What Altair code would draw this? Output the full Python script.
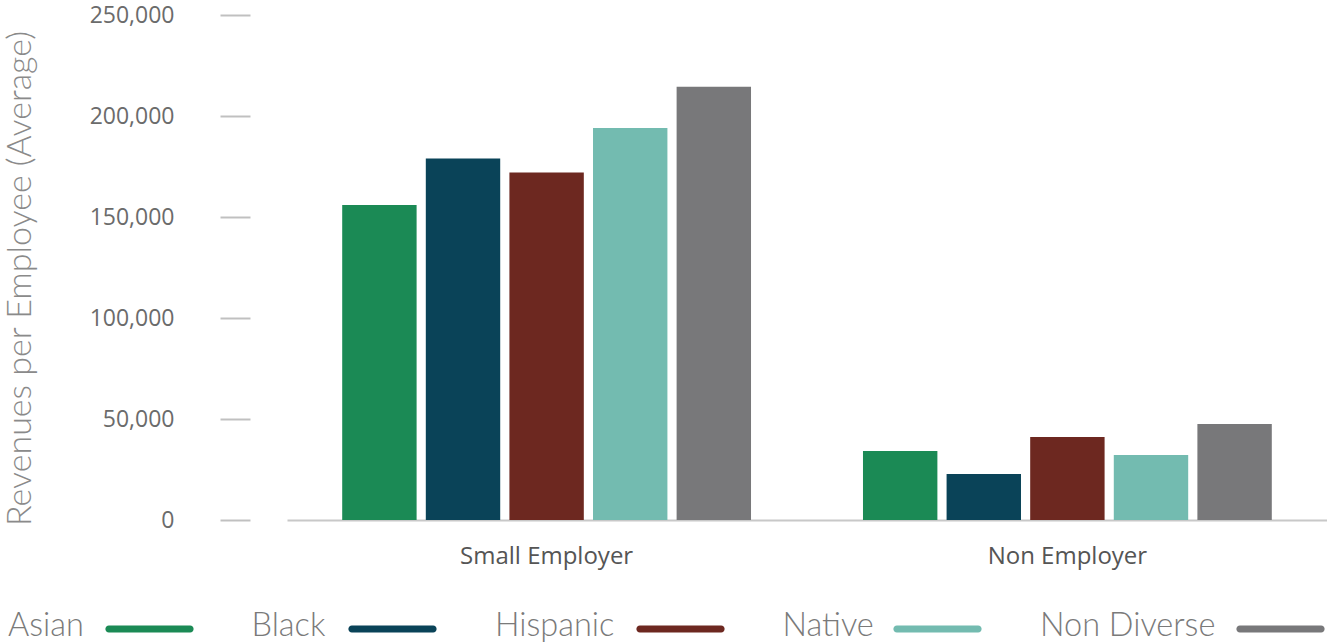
import altair as alt
import pandas as pd

groups = ["Small Employer", "Non Employer"]
categories = ["Asian", "Black", "Hispanic", "Native", "Non Diverse"]
small_employer = [156000, 179000, 172000, 194000, 214500]
non_employer = [34200, 22800, 41100, 32200, 47500]
colors = ["#1b8a55", "#0a4358", "#6d2820", "#73bbb0", "#78787a"]

rows = []
for g, vals in zip(groups, [small_employer, non_employer]):
    for c, v in zip(categories, vals):
        rows.append({"group": g, "category": c, "value": v})
df = pd.DataFrame(rows)

# legend swatches drawn to the right of each label (label width + gap, in px)
swatch_shift = [98, 97.5, 142, 111.5, 197]
SW = 88.5           # swatch length in px
half = SW / 2.0     # one path unit in px
r = 3.6 / half      # rounded-cap radius in units
yc = -6.5 / half    # swatch sits above the label baseline


def pill(shift_px):
    u0 = (shift_px - half) / half
    u1 = u0 + 2.0
    return (f"M{u0 + r:.4f},{yc - r:.4f} L{u1 - r:.4f},{yc - r:.4f} "
            f"A{r:.4f},{r:.4f} 0 0 1 {u1 - r:.4f},{yc + r:.4f} "
            f"L{u0 + r:.4f},{yc + r:.4f} A{r:.4f},{r:.4f} 0 0 1 {u0 + r:.4f},{yc - r:.4f} Z")


paths = [pill(s) for s in swatch_shift]
shape_expr = "[" + ", ".join("'" + p + "'" for p in paths) + "][datum.index]"

chart = alt.Chart(df).mark_bar().encode(
    x=alt.X("group:N", sort=groups,
            scale=alt.Scale(paddingInner=0.215, paddingOuter=0.106),
            axis=alt.Axis(title=None, labelAngle=0, ticks=False, domainColor="#c8c8c8",
                          domainWidth=2, labelFontSize=24, labelColor="#555555",
                          labelFont="Open Sans", labelPadding=24)),
    xOffset=alt.XOffset("category:N", sort=categories,
                        scale=alt.Scale(paddingInner=0.11, paddingOuter=0)),
    y=alt.Y("value:Q", scale=alt.Scale(domain=[0, 250000]),
            axis=alt.Axis(title="Revenues per Employee (Average)", values=[0, 50000, 100000, 150000, 200000, 250000],
                          format=",d", grid=False, domain=False, offset=37, tickSize=30,
                          tickColor="#c0c0c0", tickWidth=2, labelPadding=46,
                          labelFontSize=23, labelColor="#6b6b6b", labelFont="Open Sans",
                          titleFont="Lato", titleFontWeight=300, titleFontSize=34,
                          titleColor="#8a8a8a", titlePadding=52, titleY=263)),
    color=alt.Color("category:N", sort=categories,
                    scale=alt.Scale(domain=categories, range=colors),
                    legend=alt.Legend(title=None, orient="none", direction="horizontal",
                                      legendX=-280, legendY=576,
                                      symbolType={"expr": shape_expr},
                                      symbolSize=SW * SW, symbolStrokeWidth=0,
                                      labelAlign="left", labelOffset={"expr": "-88"},
                                      labelFont="Lato", labelFontWeight=300,
                                      labelFontSize=32.5, labelColor="#7a7a7a",
                                      labelLimit=400, columnPadding=56.5,
                                      labelBaseline="alphabetic")),
).properties(
    width=1040, height=505,
    autosize=alt.AutoSizeParams(type="none"),
    padding={"left": 287, "top": 15, "right": 0, "bottom": 122},
).configure_view(stroke=None)

chart.save("out.html", embed_options={"renderer": "svg", "actions": False})
